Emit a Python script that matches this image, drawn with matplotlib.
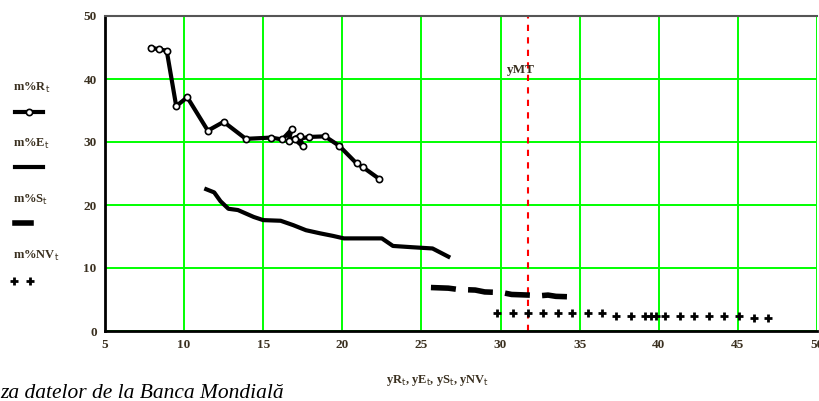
import matplotlib
matplotlib.use("Agg")
import matplotlib.pyplot as plt
from matplotlib.lines import Line2D

# ---- data ----
r_x = [7.9, 8.4, 8.9, 9.5, 10.2, 11.5, 12.5, 13.9, 15.5, 16.2, 16.8, 16.6, 17.3, 17.5, 17.0, 17.9, 18.9, 19.8, 20.9, 21.3, 22.3]
r_y = [45.0, 44.7, 44.5, 35.7, 37.1, 31.8, 33.2, 30.5, 30.7, 30.4, 32.0, 30.2, 31.0, 29.3, 30.4, 30.8, 30.9, 29.4, 26.6, 26.0, 24.2]

e_x = [11.4, 11.9, 12.3, 12.8, 13.4, 14.4, 15.0, 16.1, 16.9, 17.7, 18.6, 19.4, 20.1, 22.5, 23.2, 24.4, 25.7, 26.7]
e_y = [22.5, 22.0, 20.6, 19.4, 19.2, 18.1, 17.6, 17.5, 16.8, 16.0, 15.5, 15.1, 14.7, 14.7, 13.5, 13.3, 13.1, 11.8]

s_x = [25.6, 26.7, 27.3, 28.4, 29.0, 30.1, 30.7, 31.8, 32.5, 33.0, 33.5, 34.7]
s_y = [6.9, 6.8, 6.6, 6.5, 6.2, 6.1, 5.8, 5.7, 5.6, 5.7, 5.5, 5.4]

nv_x = [29.8, 30.8, 31.75, 32.7, 33.6, 34.5, 35.5, 36.4, 37.3, 38.25, 39.15, 39.5, 39.8, 40.4, 41.35, 42.25, 43.2, 44.1, 45.05, 46.0, 46.9]
nv_y = [2.9, 2.9, 2.9, 2.9, 2.9, 2.9, 2.9, 2.9, 2.4, 2.4, 2.4, 2.4, 2.4, 2.4, 2.4, 2.4, 2.4, 2.4, 2.4, 2.0, 2.0]

ymt = 31.75
x_ticks = [5, 10, 15, 20, 25, 30, 35, 40, 45, 50]
y_ticks = [0, 10, 20, 30, 40, 50]

W, H = 819, 401
fig = plt.figure(figsize=(W / 100, H / 100), dpi=100)
ax = fig.add_axes([105 / W, 1 - 331 / H, 712 / W, 315 / H])
ax.set_xlim(5, 50)
ax.set_ylim(0, 50)
ax.set_xticks(x_ticks)
ax.set_yticks(y_ticks)
ax.grid(True, color="#00ff00", linewidth=1.4)
ax.set_axisbelow(True)
ax.tick_params(length=0, pad=6, labelsize=9.5)
for lab in ax.get_xticklabels() + ax.get_yticklabels():
    lab.set_fontfamily("Liberation Serif")
    lab.set_fontweight("bold")
    lab.set_color("#3a3020")
for s in ["left", "bottom"]:
    ax.spines[s].set_linewidth(2)
    ax.spines[s].set_color("black")
ax.spines["top"].set_linewidth(1.5)
ax.spines["top"].set_color("#555555")
ax.spines["right"].set_visible(False)

ax.plot(r_x, r_y, color="black", linewidth=3, marker="o", markersize=4.5,
        markerfacecolor="white", markeredgecolor="black", markeredgewidth=1.2, zorder=3)
ax.plot(e_x, e_y, color="black", linewidth=3, zorder=3)
ax.plot(s_x, s_y, color="black", linewidth=4, dashes=(4.5, 2.2), zorder=3)
ax.plot(nv_x, nv_y, linestyle="none", marker="+", markersize=6, markeredgewidth=2, color="black", zorder=3)
ax.axvline(ymt, color="red", linewidth=1.5, dashes=(3, 3), zorder=2)
ax.text(30.4, 41.0, "yMT", fontsize=9.5, fontfamily="Liberation Serif", fontweight="bold", color="#3a3020")

# left legend-like labels
lab_kw = dict(fontsize=9, fontfamily="Liberation Serif", fontweight="bold", color="#3a3020")
labels = [r"m%R$_{\rm t}$", r"m%E$_{\rm t}$", r"m%S$_{\rm t}$", r"m%NV$_{\rm t}$"]
label_y = [88, 144, 200, 256]
for t, yy in zip(labels, label_y):
    fig.text(13 / W, 1 - yy / H, t, ha="left", va="center", **lab_kw)

def fl(x0, x1, ypix, **kw):
    fig.add_artist(Line2D([x0 / W, x1 / W], [1 - ypix / H, 1 - ypix / H], transform=fig.transFigure, **kw))

fl(15, 43, 112, color="black", linewidth=3)
fig.add_artist(Line2D([29 / W], [1 - 112 / H], transform=fig.transFigure, marker="o", markersize=4.5,
                      markerfacecolor="white", markeredgecolor="black", markeredgewidth=1.2, linestyle="none"))
fl(15, 43, 167, color="black", linewidth=3)
fl(15, 31, 223, color="black", linewidth=4)
fig.add_artist(Line2D([14 / W, 30 / W], [1 - 281 / H, 1 - 281 / H], transform=fig.transFigure, marker="+",
                      markersize=6, markeredgewidth=2, color="black", linestyle="none"))

fig.text(386 / W, 1 - 380 / H, r"yR$_{\rm t}$, yE$_{\rm t}$, yS$_{\rm t}$, yNV$_{\rm t}$", ha="left", va="center",
         **lab_kw)
fig.text(0 / W, 3 / H, "za datelor de la Banca Mondială", ha="left", va="baseline", fontsize=15.5,
         fontfamily="Liberation Serif", fontstyle="italic", color="black")

fig.savefig("out.png", dpi=100)
